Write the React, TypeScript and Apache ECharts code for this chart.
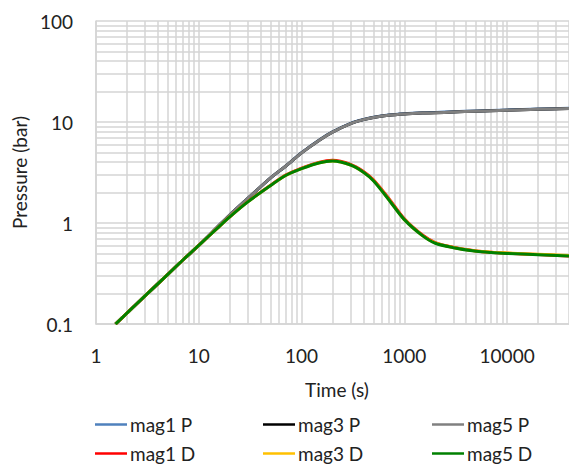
import React, { useEffect, useRef } from "react";
import * as echarts from "echarts";

// Time (s)
const time = [1.55, 2, 3, 5, 7, 10, 15, 20, 30, 50, 70, 100, 150, 200, 300, 400, 500, 700, 1000, 1500, 2000, 3000, 5000, 7000, 10000, 20000, 40000];

// Pressure (bar)
const mag1P = [0.1, 0.128, 0.19, 0.31, 0.43, 0.6, 0.9, 1.2, 1.75, 2.8, 3.66, 4.97, 6.68, 7.98, 9.7, 10.6, 11.16, 11.72, 12.07, 12.32, 12.43, 12.63, 12.88, 13.03, 13.18, 13.43, 13.68];
const mag3P = [0.1, 0.128, 0.19, 0.31, 0.43, 0.6, 0.9, 1.2, 1.75, 2.8, 3.65, 4.95, 6.65, 7.95, 9.65, 10.55, 11.1, 11.65, 12.0, 12.25, 12.35, 12.55, 12.8, 12.95, 13.1, 13.35, 13.6];
const mag5P = [0.1, 0.128, 0.19, 0.31, 0.43, 0.6, 0.9, 1.2, 1.75, 2.8, 3.65, 4.95, 6.65, 7.95, 9.65, 10.55, 11.1, 11.65, 12.0, 12.25, 12.35, 12.55, 12.8, 12.95, 13.1, 13.35, 13.6];
const mag1D = [0.1, 0.128, 0.19, 0.31, 0.43, 0.6, 0.88, 1.15, 1.63, 2.37, 2.98, 3.5, 4.0, 4.17, 3.8, 3.24, 2.68, 1.77, 1.1, 0.76, 0.64, 0.575, 0.528, 0.512, 0.502, 0.487, 0.472];
const mag3D = [0.1, 0.128, 0.19, 0.31, 0.43, 0.6, 0.88, 1.15, 1.62, 2.35, 2.95, 3.46, 3.95, 4.11, 3.75, 3.18, 2.63, 1.73, 1.08, 0.75, 0.635, 0.572, 0.528, 0.514, 0.505, 0.49, 0.476];
const mag5D = [0.1, 0.128, 0.19, 0.31, 0.43, 0.6, 0.88, 1.15, 1.62, 2.35, 2.95, 3.45, 3.95, 4.1, 3.75, 3.18, 2.62, 1.72, 1.08, 0.75, 0.63, 0.57, 0.525, 0.51, 0.5, 0.485, 0.47];

const seriesNames = ["mag1 P", "mag3 P", "mag5 P", "mag1 D", "mag3 D", "mag5 D"];
const seriesValues = [mag1P, mag3P, mag5P, mag1D, mag3D, mag5D];
const seriesColors = ["#4F81BD", "#000000", "#808080", "#FF0000", "#FFC000", "#008000"];

// Axis ranges and decade gridlines
const xRange = [1, 40000];
const yRange = [0.1, 100];
const xDecades = [1, 10, 100, 1000, 10000];
const yDecades = [0.1, 1, 10];
const minorSteps = [2, 3, 4, 5, 6, 7, 8, 9];

const FONT = "Lato";
const TEXT = "#222222";
const GRID = "#d4d4d4";

function logLabel(v: number) {
  const l = Math.log10(v);
  if (Math.abs(l - Math.round(l)) > 1e-6) return "";
  return String(+v.toPrecision(6));
}

export default function App() {
  const ref = useRef<HTMLDivElement>(null);
  useEffect(() => {
    if (!ref.current) return;
    const chart = echarts.init(ref.current, undefined, { renderer: "svg" });

    const gridLines: any[] = [];
    xDecades.forEach((d) =>
      minorSteps.forEach((m) => {
        const v = +(d * m).toPrecision(6);
        if (v < xRange[1]) gridLines.push({ xAxis: v });
      })
    );
    yDecades.forEach((d) =>
      minorSteps.forEach((m) => {
        const v = +(d * m).toPrecision(6);
        if (v < yRange[1]) gridLines.push({ yAxis: v });
      })
    );

    const textStyle = { fontFamily: FONT, fontSize: 19, color: TEXT };

    const cols = [95, 263, 432];
    const rows = [415, 444];

    chart.setOption({
      animation: false,
      grid: { left: 96, top: 21, right: 0, bottom: 142, containLabel: false },
      xAxis: {
        type: "log",
        logBase: 10,
        min: xRange[0],
        max: xRange[1],
        name: "Time (s)",
        nameLocation: "middle",
        nameGap: 56,
        nameTextStyle: { ...textStyle, padding: [0, 0, 0, 9] },
        axisLine: { show: true, lineStyle: { color: GRID, width: 1.5 } },
        axisTick: { show: false },
        axisLabel: { ...textStyle, margin: 22, formatter: logLabel, showMaxLabel: false },
        splitLine: { show: true, lineStyle: { color: GRID, width: 1.5 } },
      },
      yAxis: {
        type: "log",
        logBase: 10,
        min: yRange[0],
        max: yRange[1],
        name: "Pressure (bar)",
        nameLocation: "middle",
        nameGap: 55,
        nameTextStyle: { ...textStyle },
        axisLine: { show: true, lineStyle: { color: GRID, width: 1.5 } },
        axisTick: { show: false },
        axisLabel: { ...textStyle, margin: 23, formatter: logLabel },
        splitLine: { show: true, lineStyle: { color: GRID, width: 1.5 } },
      },
      legend: seriesNames.map((n, i) => ({
        data: [n],
        left: cols[i % 3],
        top: rows[Math.floor(i / 3)],
        padding: 0,
        icon: "rect",
        itemWidth: 32,
        itemHeight: 2.5,
        selectedMode: false,
        textStyle: { ...textStyle, padding: [0, 0, 0, -2] },
      })),
      series: [
        {
          type: "line",
          name: "grid",
          data: [[xRange[0], yRange[0]]],
          symbol: "none",
          silent: true,
          lineStyle: { opacity: 0 },
          z: 1,
          markLine: {
            z: 1,
            silent: true,
            symbol: ["none", "none"],
            label: { show: false },
            lineStyle: { color: GRID, width: 1.5, type: "solid" },
            emphasis: { disabled: true },
            data: gridLines,
          },
        },
        ...seriesNames.map((n, i) => ({
          type: "line",
          name: n,
          data: time.map((t, j) => [t, seriesValues[i][j]]),
          symbol: "none",
          showSymbol: false,
          smooth: 0.3,
          color: seriesColors[i],
          lineStyle: { width: 3, color: seriesColors[i] },
          z: 3,
        })),
      ],
    });
    return () => chart.dispose();
  }, []);
  return (
    <div
      ref={ref}
      style={{ position: "absolute", left: 0, top: 0, width: 569, height: 466 }}
    />
  );
}
